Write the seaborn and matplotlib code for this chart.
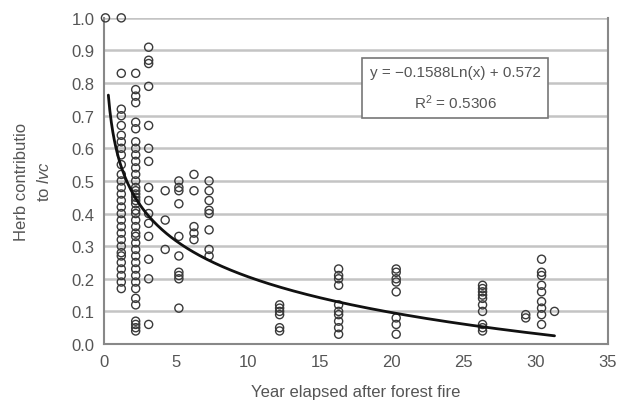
import numpy as np
import pandas as pd
import matplotlib
matplotlib.use("Agg")
import matplotlib.pyplot as plt
import seaborn as sns

# ---- data ----
col_x = [0.1, 1.2, 2.2, 3.1, 4.25, 5.2, 6.25, 7.3, 12.2, 16.3, 20.3, 26.3, 29.3, 30.4, 31.3]
col_y = [
    [1.0],
    [1.0, 0.83, 0.72, 0.70, 0.67, 0.64, 0.62, 0.60, 0.58, 0.55, 0.52, 0.50, 0.48, 0.46, 0.44,
     0.42, 0.40, 0.38, 0.36, 0.34, 0.32, 0.30, 0.28, 0.27, 0.25, 0.23, 0.21, 0.19, 0.17],
    [0.83, 0.78, 0.76, 0.74, 0.68, 0.66, 0.62, 0.60, 0.58, 0.56, 0.54, 0.52, 0.50, 0.48, 0.47,
     0.46, 0.45, 0.44, 0.43, 0.41, 0.40, 0.38, 0.36, 0.34, 0.33, 0.31, 0.29, 0.27, 0.25, 0.23,
     0.21, 0.19, 0.17, 0.14, 0.12, 0.07, 0.06, 0.05, 0.04],
    [0.91, 0.87, 0.86, 0.79, 0.67, 0.60, 0.56, 0.48, 0.44, 0.40, 0.37, 0.33, 0.26, 0.20, 0.06],
    [0.47, 0.38, 0.29],
    [0.50, 0.48, 0.47, 0.43, 0.33, 0.27, 0.22, 0.21, 0.20, 0.11],
    [0.52, 0.47, 0.36, 0.34, 0.32],
    [0.50, 0.47, 0.44, 0.41, 0.40, 0.35, 0.29, 0.27],
    [0.12, 0.11, 0.10, 0.09, 0.05, 0.04],
    [0.23, 0.21, 0.20, 0.18, 0.12, 0.10, 0.09, 0.07, 0.05, 0.03],
    [0.23, 0.22, 0.20, 0.19, 0.16, 0.08, 0.06, 0.03],
    [0.18, 0.17, 0.16, 0.15, 0.14, 0.12, 0.10, 0.06, 0.05, 0.04],
    [0.09, 0.08],
    [0.26, 0.22, 0.21, 0.18, 0.16, 0.13, 0.11, 0.09, 0.06],
    [0.10],
]
fit_slope = -0.1588
fit_intercept = 0.572
fit_r2 = 0.5306
fit_x_range = (0.3, 31.3)
x_ticks = [0, 5, 10, 15, 20, 25, 30, 35]
y_ticks = [0.0, 0.1, 0.2, 0.3, 0.4, 0.5, 0.6, 0.7, 0.8, 0.9, 1.0]

xs, ys = [], []
for cx, vals in zip(col_x, col_y):
    for v in vals:
        xs.append(cx)
        ys.append(v)
pts = pd.DataFrame({"year": xs, "herb": ys})

fx = np.linspace(fit_x_range[0], fit_x_range[1], 300)
fit = pd.DataFrame({"year": fx, "herb": fit_slope * np.log(fx) + fit_intercept})

# ---- style ----
sns.set_theme(style="white")
plt.rcParams["font.family"] = ["Liberation Sans", "DejaVu Sans"]
plt.rcParams["mathtext.fontset"] = "custom"
plt.rcParams["mathtext.it"] = "Liberation Sans:italic"
plt.rcParams["mathtext.rm"] = "Liberation Sans"
text_c = "#555555"

fig = plt.figure(figsize=(6.24, 4.10), dpi=100)
ax = fig.add_axes([0.1667, 0.1585, 0.8073, 0.7955])

for t in y_ticks[1:]:
    ax.axhline(t, color="#c4c4c4", lw=1.8, zorder=0)

sns.scatterplot(data=pts, x="year", y="herb", ax=ax, marker="o", s=34,
                facecolor="none", edgecolor="#3a3a3a", linewidth=1.0, zorder=3,
                clip_on=False)
sns.lineplot(data=fit, x="year", y="herb", ax=ax, color="#111111", lw=2.0, zorder=4)

ax.set_xlim(0, 35)
ax.set_ylim(0, 1.0)
ax.set_xticks(x_ticks)
ax.set_yticks(y_ticks)
ax.set_yticklabels([f"{t:.1f}" for t in y_ticks])
ax.tick_params(axis="both", direction="in", length=4, width=1, color="#888888",
               labelsize=12, labelcolor=text_c, pad=7)
for s in ax.spines.values():
    s.set_color("#888888")
    s.set_linewidth(1.5)
ax.spines["top"].set_visible(False)

ax.set_xlabel("Year elapsed after forest fire", fontsize=12, color=text_c, labelpad=11)
ax.set_ylabel("Herb contributio\nto $\\mathit{lvc}$", fontsize=12, color=text_c,
              labelpad=14, linespacing=1.5)

ax.text(24.4, 0.785, f"y = \u2212{abs(fit_slope):.4f}Ln(x) + {fit_intercept:.3f}\n"
        f"R$^2$ = {fit_r2:.4f}", ha="center", va="center", fontsize=11, color=text_c,
        linespacing=1.8,
        bbox=dict(boxstyle="square,pad=0.5", facecolor="white", edgecolor="#777777", lw=1.2),
        zorder=6)

fig.savefig("out.png", dpi=100)
